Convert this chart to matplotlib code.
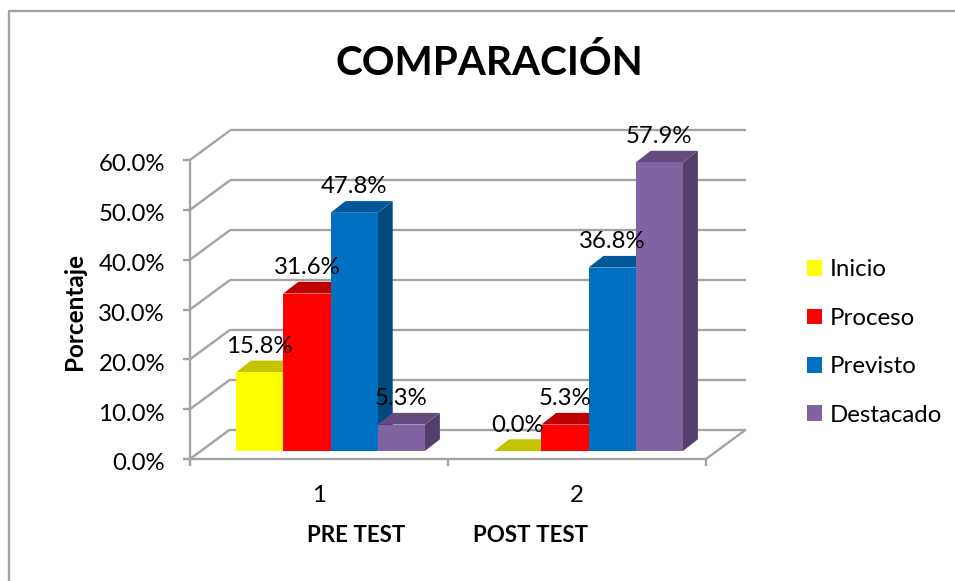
import matplotlib
matplotlib.use('Agg')
import matplotlib.pyplot as plt
from matplotlib.patches import Patch, Polygon
import numpy as np

plt.rcParams['font.family'] = ['Lato', 'DejaVu Sans']

categories = ['1', '2']
group_names = ['PRE TEST', 'POST TEST']
series_names = ['Inicio', 'Proceso', 'Previsto', 'Destacado']
inicio = [15.8, 0.0]
proceso = [31.6, 5.3]
previsto = [47.8, 36.8]
destacado = [5.3, 57.9]
y_ticks = [0, 10, 20, 30, 40, 50, 60]

colors = ['#FFFF00', '#FF0000', '#0070C0', '#8064A2']
tops = ['#C4C400', '#C00000', '#00589A', '#644C80']
sides = ['#A8A800', '#A00000', '#004A80', '#533F6B']
grid_col = '#A3A3A3'

W, H = 955, 581
fig = plt.figure(figsize=(W / 100, H / 100), dpi=100)
ax = fig.add_axes([190 / W, (H - 459) / H, 516 / W, 299 / H])
ax.set_xlim(0.5, 2.5)
ax.set_ylim(0, 60)
ax.axis('off')

# px -> data units, the fake 3d is all offsets from the front plane
px_x = 2 / 516
px_y = 60 / 299
wall_dx, wall_dy = 40 * px_x, 29.5 * px_y
bar_dx, bar_dy = 11.5 * px_x, 8 * px_y
deep_dx, deep_dy = 15 * px_x, 11.7 * px_y
bar_w = 47.2 * px_x


def line(xs, ys, **kw):
    ax.plot(xs, ys, color=grid_col, lw=1.7, clip_on=False, solid_capstyle='butt', **kw)


# walls and grid
for v in y_ticks:
    line([0.5, 0.5 + wall_dx], [v, v + wall_dy], zorder=1)
    line([0.5 + wall_dx, 2.5 + wall_dx], [v + wall_dy, v + wall_dy], zorder=1)
    line([0.5 - 7 * px_x, 0.5], [v, v], zorder=1)
line([2.5, 2.5 + wall_dx], [0, wall_dy], zorder=1)
line([0.5, 0.5], [0, 60], zorder=1)
line([0.5, 2.5], [0, 0], zorder=1)
for x in [0.5, 1.5, 2.5]:
    line([x, x], [0, -7 * px_y], zorder=1)

# bars, left to right so the next front face covers the side before it
series = [inicio, proceso, previsto, destacado]
z = 2
labels = []
for c in range(len(categories)):
    for s in range(len(series)):
        v = series[s][c]
        x0 = (c + 1) - 2 * bar_w + (s * bar_w) + bar_dx
        x1 = x0 + bar_w
        y0 = bar_dy
        y1 = y0 + v
        ax.add_patch(Polygon([[x1, y0], [x1 + deep_dx, y0 + deep_dy], [x1 + deep_dx, y1 + deep_dy], [x1, y1]],
                             fc=sides[s], ec='none', clip_on=False, zorder=z))
        ax.add_patch(Polygon([[x0, y1], [x0 + deep_dx, y1 + deep_dy], [x1 + deep_dx, y1 + deep_dy], [x1, y1]],
                             fc=tops[s], ec='none', clip_on=False, zorder=z))
        if v > 0:
            ax.add_patch(Polygon([[x0, y0], [x1, y0], [x1, y1], [x0, y1]],
                                 fc=colors[s], ec='none', clip_on=False, zorder=z))
        z += 1
        labels.append(((x0 + x1) / 2, y1, '%.1f%%' % v))

for x, y, t in labels:
    ax.annotate(t, (x, y), xytext=(0, 26 * 0.72), textcoords='offset points',
                ha='center', va='center', fontsize=17.3, color='black', zorder=50, annotation_clip=False)

for v in y_ticks:
    ax.annotate('%.1f%%' % v, (0.5, v), xytext=(-25 * 0.72, -5 * 0.72), textcoords='offset points',
                ha='right', va='center', fontsize=17.3, annotation_clip=False)
for c, name in enumerate(categories):
    ax.annotate(name, (c + 1, 0), xytext=(0, -36 * 0.72), textcoords='offset points',
                ha='center', va='center', fontsize=17.3, annotation_clip=False)

fig.text(489 / W, 1 - 63 / H, 'COMPARACIÓN', fontsize=29.2, fontweight='bold', ha='center', va='center')
fig.text(74 / W, 1 - 311 / H, 'Porcentaje', fontsize=17.5, fontweight='bold', rotation=90, ha='center', va='center')
fig.text(356.5 / W, 1 - 536 / H, group_names[0], fontsize=16.1, fontweight='bold', ha='center', va='center')
fig.text(530.5 / W, 1 - 536 / H, group_names[1], fontsize=16.1, fontweight='bold', ha='center', va='center')

handles = [Patch(fc=colors[i], ec='none', label=series_names[i]) for i in range(4)]
fig.legend(handles=handles, loc='center left', bbox_to_anchor=(807 / W, 1 - 342.5 / H), frameon=False,
           fontsize=17.3, handlelength=0.625, handleheight=0.625, handletextpad=0.33, labelspacing=1.14,
           borderpad=0, borderaxespad=0)

# chart area border, no right side in the source image
fig.add_artist(plt.Line2D([9 / W, 9 / W, 1], [0, 1 - 11 / H, 1 - 11 / H],
                          color=grid_col, lw=1.7))

plt.savefig('out.png', dpi=100)
